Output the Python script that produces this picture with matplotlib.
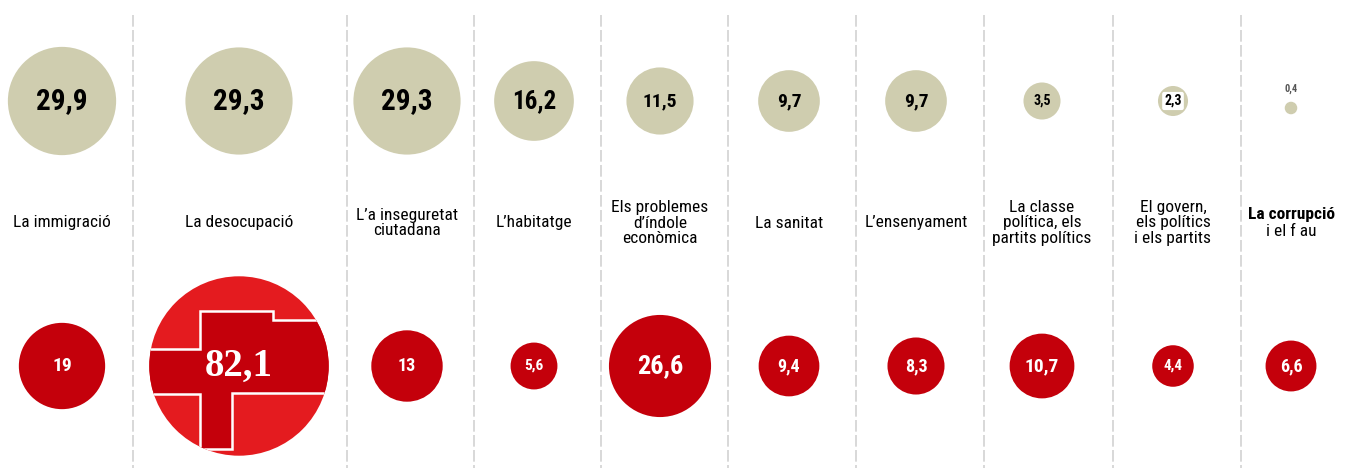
import matplotlib
matplotlib.use('Agg')
import matplotlib.pyplot as plt
from matplotlib.patches import Circle, Polygon
from matplotlib import font_manager
import numpy as np

# survey problems: top row (beige) and bottom row (red)
categories = [
    'La immigració',
    'La desocupació',
    'L\u2019a inseguretat\nciutadana',
    'L\u2019habitatge',
    'Els problemes\nd\u2019índole\neconòmica',
    'La sanitat',
    'L\u2019ensenyament',
    'La classe\npolítica, els\npartits polítics',
    'El govern,\nels polítics\ni els partits',
    'La corrupció\ni el f au',
]
top_values = [29.9, 29.3, 29.3, 16.2, 11.5, 9.7, 9.7, 3.5, 2.3, 0.4]
bottom_values = [19, 82.1, 13, 5.6, 26.6, 9.4, 8.3, 10.7, 4.4, 6.6]

# layout (pixels)
W, H = 1352, 468
x_pos = [62, 239, 407, 534, 660, 789, 916, 1042, 1173, 1291]
separators = [133, 347, 474, 601, 728, 856, 984, 1113, 1241]
y_top, y_label, y_bottom = 101, 223, 366
k = 9.9  # px radius per sqrt(unit)
top_fs = [21, 21, 21, 18, 14, 14, 14, 10, 10, 7.5]
bot_fs = [14, 28, 13, 11, 19, 13, 13, 14, 11, 13]

BEIGE = '#cfcdaf'
RED = '#c4000b'

names = {f.name for f in font_manager.fontManager.ttflist}
NARROW = [n for n in ['Roboto Condensed', 'Liberation Sans Narrow', 'DejaVu Sans'] if n in names]
STRETCH = 'normal' if NARROW[0] != 'DejaVu Sans' else 'condensed'

def fmt(v):
    return f'{v:g}'.replace('.', ',')

def txt(x, y, s, **kw):
    kw.setdefault('family', NARROW)
    kw.setdefault('stretch', STRETCH)
    return ax.text(x, y, s, ha='center', va='center', **kw)

fig = plt.figure(figsize=(W / 100, H / 100), dpi=100)
ax = fig.add_axes([0, 0, 1, 1])
ax.set_xlim(0, W)
ax.set_ylim(H, 0)
ax.axis('off')

for sx in separators:
    ax.plot([sx, sx], [15, H], color='#d2d2d2', lw=1.2, ls=(0, (7, 2)), zorder=0)

for i, (x, tv, bv) in enumerate(zip(x_pos, top_values, bottom_values)):
    # top circle
    r = k * np.sqrt(tv)
    ax.add_patch(Circle((x, y_top if tv > 1 else y_top + 7), r, color=BEIGE, lw=0))
    if tv < 1:
        txt(x, y_top - 12, fmt(tv), fontsize=top_fs[i], color='#555555', weight='bold')
    elif tv < 3:
        txt(x, y_top, fmt(tv), fontsize=top_fs[i], weight='heavy',
            bbox=dict(boxstyle='round,pad=0.15', fc='white', ec='none'))
    else:
        txt(x, y_top, fmt(tv), fontsize=top_fs[i], weight='heavy', color='black')

    # label
    if i == len(categories) - 1:
        first, second = categories[i].split('\n')
        txt(x, y_label - 9, first, fontsize=12.5, weight='bold')
        txt(x, y_label + 9, second, fontsize=12.5)
    else:
        txt(x, y_label, categories[i], fontsize=12.5, linespacing=1.05)

    # bottom circle
    r = k * np.sqrt(bv)
    if bv > 50:
        circ = Circle((x, y_bottom), r, color='#e41b1f', lw=0)
        ax.add_patch(circ)
        shape = np.array([(-1.1, 0.19), (-0.44, 0.19), (-0.44, 0.61), (0.38, 0.61),
                          (0.38, 0.51), (1.15, 0.51), (1.15, -0.30), (-0.08, -0.30),
                          (-0.08, -0.92), (-0.44, -0.92), (-0.44, -0.31), (-1.1, -0.31)])
        pts = np.column_stack([x + shape[:, 0] * r, y_bottom - shape[:, 1] * r])
        poly = Polygon(pts, closed=True, fc=RED, ec='white', lw=1.8)
        ax.add_patch(poly)
        poly.set_clip_path(circ)
        ax.text(x, y_bottom, fmt(bv), ha='center', va='center', fontsize=bot_fs[i],
                weight='bold', color='white', family=['Liberation Serif', 'DejaVu Serif'])
    else:
        ax.add_patch(Circle((x, y_bottom), r, color=RED, lw=0))
        txt(x, y_bottom, fmt(bv), fontsize=bot_fs[i], weight='bold', color='white')

fig.savefig('out.png', dpi=100, facecolor='white')
